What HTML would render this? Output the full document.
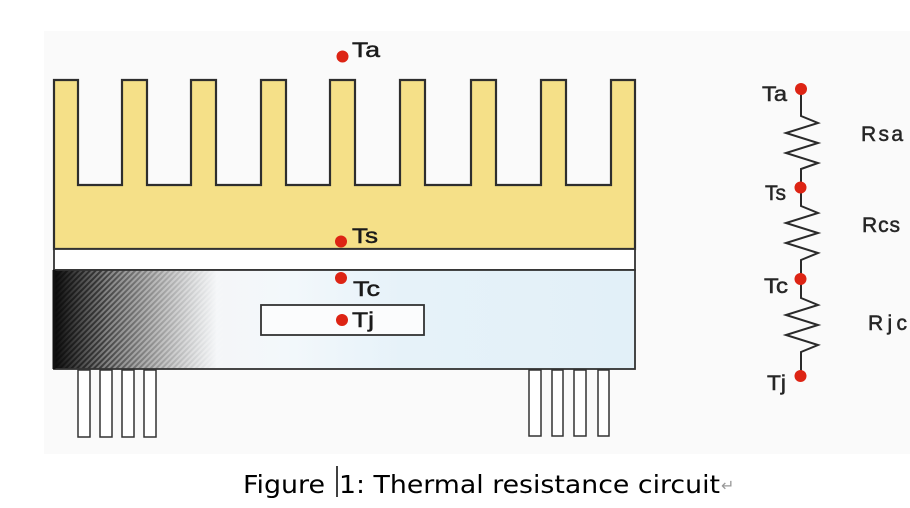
<!DOCTYPE html>
<html><head><meta charset="utf-8"><style>
html,body{margin:0;padding:0;background:#fff;}
svg{display:block;}
</style></head><body>
<svg width="910" height="508" viewBox="0 0 910 508" xmlns="http://www.w3.org/2000/svg" font-family="Liberation Sans, Arial, sans-serif">
<defs>
<linearGradient id="bodyg" x1="54" y1="0" x2="635" y2="0" gradientUnits="userSpaceOnUse">
<stop offset="0" stop-color="#0a0a0a"/>
<stop offset="0.08" stop-color="#3a3a3a"/>
<stop offset="0.18" stop-color="#9a9a9a"/>
<stop offset="0.28" stop-color="#f4f6f8"/>
<stop offset="0.4" stop-color="#f3f8fb"/>
<stop offset="0.6" stop-color="#e6f2f9"/>
<stop offset="1" stop-color="#e2f0f8"/>
</linearGradient>
<pattern id="hatch" width="4" height="4" patternUnits="userSpaceOnUse" patternTransform="rotate(45)">
<rect width="2" height="4" fill="#ffffff" opacity="0.35"/>
</pattern>
<linearGradient id="fadeg" x1="54" y1="0" x2="230" y2="0" gradientUnits="userSpaceOnUse">
<stop offset="0" stop-color="#fff" stop-opacity="0"/>
<stop offset="0.3" stop-color="#fff" stop-opacity="1"/>
<stop offset="0.85" stop-color="#fff" stop-opacity="1"/>
<stop offset="1" stop-color="#fff" stop-opacity="0"/>
</linearGradient>
<mask id="fadem"><rect x="54" y="270" width="180" height="99" fill="url(#fadeg)"/></mask>
</defs>

<rect x="44" y="31" width="866" height="423" fill="#fafafa"/>

<!-- heatsink -->
<path d="M54,80 H78 V185 H122 V80 H147 V185 H191 V80 H216 V185 H261 V80 H286 V185 H330 V80 H355 V185 H400 V80 H425 V185 H471 V80 H496 V185 H541 V80 H566 V185 H611 V80 H635 V249 H54 Z" fill="#f5e088" stroke="#2e2e2e" stroke-width="2.2" stroke-linejoin="miter"/>

<!-- white layer -->
<rect x="54" y="249" width="581" height="21" fill="#ffffff" stroke="#333" stroke-width="1.8"/>

<!-- body -->
<rect x="54" y="270" width="581" height="99" fill="url(#bodyg)"/>
<rect x="54" y="270" width="180" height="99" fill="url(#hatch)" mask="url(#fadem)"/>
<rect x="54" y="270" width="581" height="99" fill="none" stroke="#333" stroke-width="1.8"/>
<line x1="54" y1="270" x2="54" y2="369" stroke="#111" stroke-width="3"/>

<!-- chip -->
<rect x="261" y="305" width="163" height="30" fill="#fbfcfd" stroke="#333" stroke-width="1.8"/>

<!-- pins -->
<g fill="#fff" stroke="#333" stroke-width="1.5">
<rect x="78" y="370" width="12" height="67"/>
<rect x="100" y="370" width="12" height="67"/>
<rect x="122" y="370" width="12" height="67"/>
<rect x="144" y="370" width="12" height="67"/>
<rect x="529" y="370" width="12" height="66"/>
<rect x="552" y="370" width="11" height="66"/>
<rect x="574" y="370" width="12" height="66"/>
<rect x="598" y="370" width="11" height="66"/>
</g>

<!-- dots on heatsink -->
<g fill="#dd2414">
<circle cx="342.5" cy="56.5" r="6"/>
<circle cx="341" cy="241.5" r="6"/>
<circle cx="341" cy="278" r="6"/>
<circle cx="342" cy="320" r="6"/>
</g>
<g fill="#1a1a1a" stroke="#1a1a1a" stroke-width="0.5" font-size="21">
<text x="352" y="57" textLength="28" lengthAdjust="spacingAndGlyphs">Ta</text>
<text x="352" y="243" textLength="26" lengthAdjust="spacingAndGlyphs">Ts</text>
<text x="353" y="296" textLength="27" lengthAdjust="spacingAndGlyphs">Tc</text>
<text x="352" y="327" textLength="22" lengthAdjust="spacingAndGlyphs">Tj</text>
</g>

<!-- circuit -->
<g fill="none" stroke="#2a2a2a" stroke-width="2" stroke-linejoin="miter">
<polyline points="801,89 801,116 818,123 786,133 818,143 786,153 818,163 801,169 801,188 801,206 818,213 786,223 818,233 786,243 818,253 801,260 801,279 801,298 818,305 786,315 818,325 786,335 818,345 801,352 801,376"/>
</g>
<g fill="#dd2414">
<circle cx="801" cy="89" r="6"/>
<circle cx="800.5" cy="187.5" r="6"/>
<circle cx="800.5" cy="279" r="6"/>
<circle cx="800.5" cy="376" r="6"/>
</g>
<g fill="#262626" stroke="#262626" stroke-width="0.5" font-size="21">
<text x="762" y="101" textLength="25" lengthAdjust="spacingAndGlyphs">Ta</text>
<text x="765" y="200" textLength="21" lengthAdjust="spacingAndGlyphs">Ts</text>
<text x="764" y="293" textLength="24" lengthAdjust="spacingAndGlyphs">Tc</text>
<text x="767" y="390" textLength="19" lengthAdjust="spacingAndGlyphs">Tj</text>
<text x="861" y="141" textLength="42" lengthAdjust="spacing">Rsa</text>
<text x="862" y="232" textLength="38" lengthAdjust="spacing">Rcs</text>
<text x="868" y="330" textLength="39" lengthAdjust="spacing">Rjc</text>
</g>

<!-- caption -->
<g font-family="DejaVu Sans, Liberation Sans, sans-serif" font-size="25" fill="#000">
<text x="243" y="493" textLength="82" lengthAdjust="spacingAndGlyphs">Figure</text>
<line x1="337" y1="466" x2="337" y2="497" stroke="#000" stroke-width="1.5"/>
<text x="339" y="493" textLength="381" lengthAdjust="spacingAndGlyphs">1: Thermal resistance circuit</text>
<text x="721" y="491" font-size="16" fill="#9a9a9a">↵</text>
</g>
</svg>
</body></html>
